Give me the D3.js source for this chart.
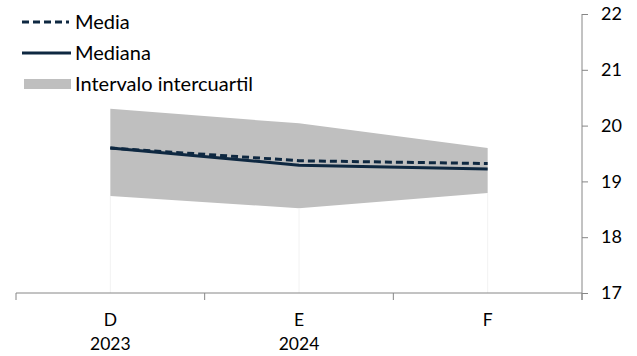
<!DOCTYPE html>
<html>
<head>
<meta charset="utf-8">
<script src="https://cdn.jsdelivr.net/npm/d3@7"></script>
<style>
  body { margin: 0; background: #fff; }
  svg text { font-family: Lato, "Noto Sans", sans-serif; fill: #000; }
</style>
</head>
<body>
<div id="chart"></div>
<script>
// valores
var categorias = ["D", "E", "F"];
var anios = ["2023", "2024", ""];
var media = [19.60, 19.37, 19.32];
var mediana = [19.60, 19.29, 19.22];
var q1 = [18.74, 18.52, 18.79];
var q3 = [20.30, 20.04, 19.60];
var ticksY = [17, 18, 19, 20, 21, 22];

var W = 637, H = 356;
var svg = d3.select("#chart").append("svg")
    .attr("width", W).attr("height", H);

var x = d3.scaleBand().domain(categorias).range([16, 582]);
var y = d3.scaleLinear().domain([17, 22]).range([293, 14]);
var cx = function(i){ return x(categorias[i]) + x.bandwidth() / 2; };

var datos = categorias.map(function(c, i){
    return {i: i, media: media[i], mediana: mediana[i], q1: q1[i], q3: q3[i]};
});

// banda intercuartil
var area = d3.area()
    .x(function(d){ return cx(d.i); })
    .y0(function(d){ return y(d.q1); })
    .y1(function(d){ return y(d.q3); });
svg.append("path").datum(datos)
    .attr("d", area).attr("fill", "#bfbfbf");

// líneas de caída muy tenues
svg.selectAll(".drop").data(datos).enter().append("line")
    .attr("x1", function(d){ return cx(d.i); }).attr("x2", function(d){ return cx(d.i); })
    .attr("y1", function(d){ return y(d.q1); }).attr("y2", y(17))
    .attr("stroke", "#f2f2f2").attr("stroke-width", 1);

var linea = function(campo){
    return d3.line()
        .x(function(d){ return cx(d.i); })
        .y(function(d){ return y(d[campo]); });
};

svg.append("path").datum(datos)
    .attr("d", linea("mediana"))
    .attr("fill", "none").attr("stroke", "#0e2841").attr("stroke-width", 3);
svg.append("path").datum(datos)
    .attr("d", linea("media"))
    .attr("fill", "none").attr("stroke", "#0e2841").attr("stroke-width", 3)
    .attr("stroke-dasharray", "7,4");

// eje x
var ejeX = svg.append("g");
ejeX.append("line")
    .attr("x1", 16).attr("x2", 582).attr("y1", y(17)).attr("y2", y(17))
    .attr("stroke", "#868686");
var bordes = categorias.map(function(c){ return x(c); }).concat([x.range()[1]]);
ejeX.selectAll(".tk").data(bordes).enter().append("line")
    .attr("x1", function(d){ return d; }).attr("x2", function(d){ return d; })
    .attr("y1", y(17)).attr("y2", y(17) + 7)
    .attr("stroke", "#868686");
ejeX.selectAll(".cat").data(categorias).enter().append("text")
    .attr("x", function(d, i){ return cx(i); }).attr("y", 326)
    .attr("text-anchor", "middle").attr("font-size", 17.5)
    .text(function(d){ return d; });
ejeX.selectAll(".anio").data(anios).enter().append("text")
    .attr("x", function(d, i){ return cx(i); }).attr("y", 350)
    .attr("text-anchor", "middle").attr("font-size", 17.5)
    .text(function(d){ return d; });

// eje y a la derecha
var ejeY = svg.append("g").attr("transform", "translate(582,0)")
    .call(d3.axisRight(y).tickValues(ticksY).tickSize(6).tickPadding(13).tickFormat(d3.format("d")));
ejeY.select(".domain").attr("stroke", "#868686").attr("d", "M0," + y(22) + "V" + (y(17) + 7));
ejeY.selectAll(".tick line").attr("stroke", "#868686");
ejeY.selectAll(".tick text").attr("font-size", 18).attr("font-family", "Lato, sans-serif").attr("fill", "#000");

// leyenda
var leyenda = svg.append("g");
leyenda.append("line").attr("x1", 22).attr("x2", 69).attr("y1", 22).attr("y2", 22)
    .attr("stroke", "#0e2841").attr("stroke-width", 3).attr("stroke-dasharray", "7,4");
leyenda.append("text").attr("x", 75).attr("y", 22).attr("dy", "0.35em")
    .attr("font-size", 20).text("Media");
leyenda.append("line").attr("x1", 22).attr("x2", 71).attr("y1", 53).attr("y2", 53)
    .attr("stroke", "#0e2841").attr("stroke-width", 3);
leyenda.append("text").attr("x", 75).attr("y", 53).attr("dy", "0.35em")
    .attr("font-size", 20).text("Mediana");
leyenda.append("rect").attr("x", 24).attr("y", 79).attr("width", 47).attr("height", 10)
    .attr("fill", "#bfbfbf");
leyenda.append("text").attr("x", 75).attr("y", 84).attr("dy", "0.35em")
    .attr("font-size", 20).text("Intervalo intercuartil");
</script>
</body>
</html>
